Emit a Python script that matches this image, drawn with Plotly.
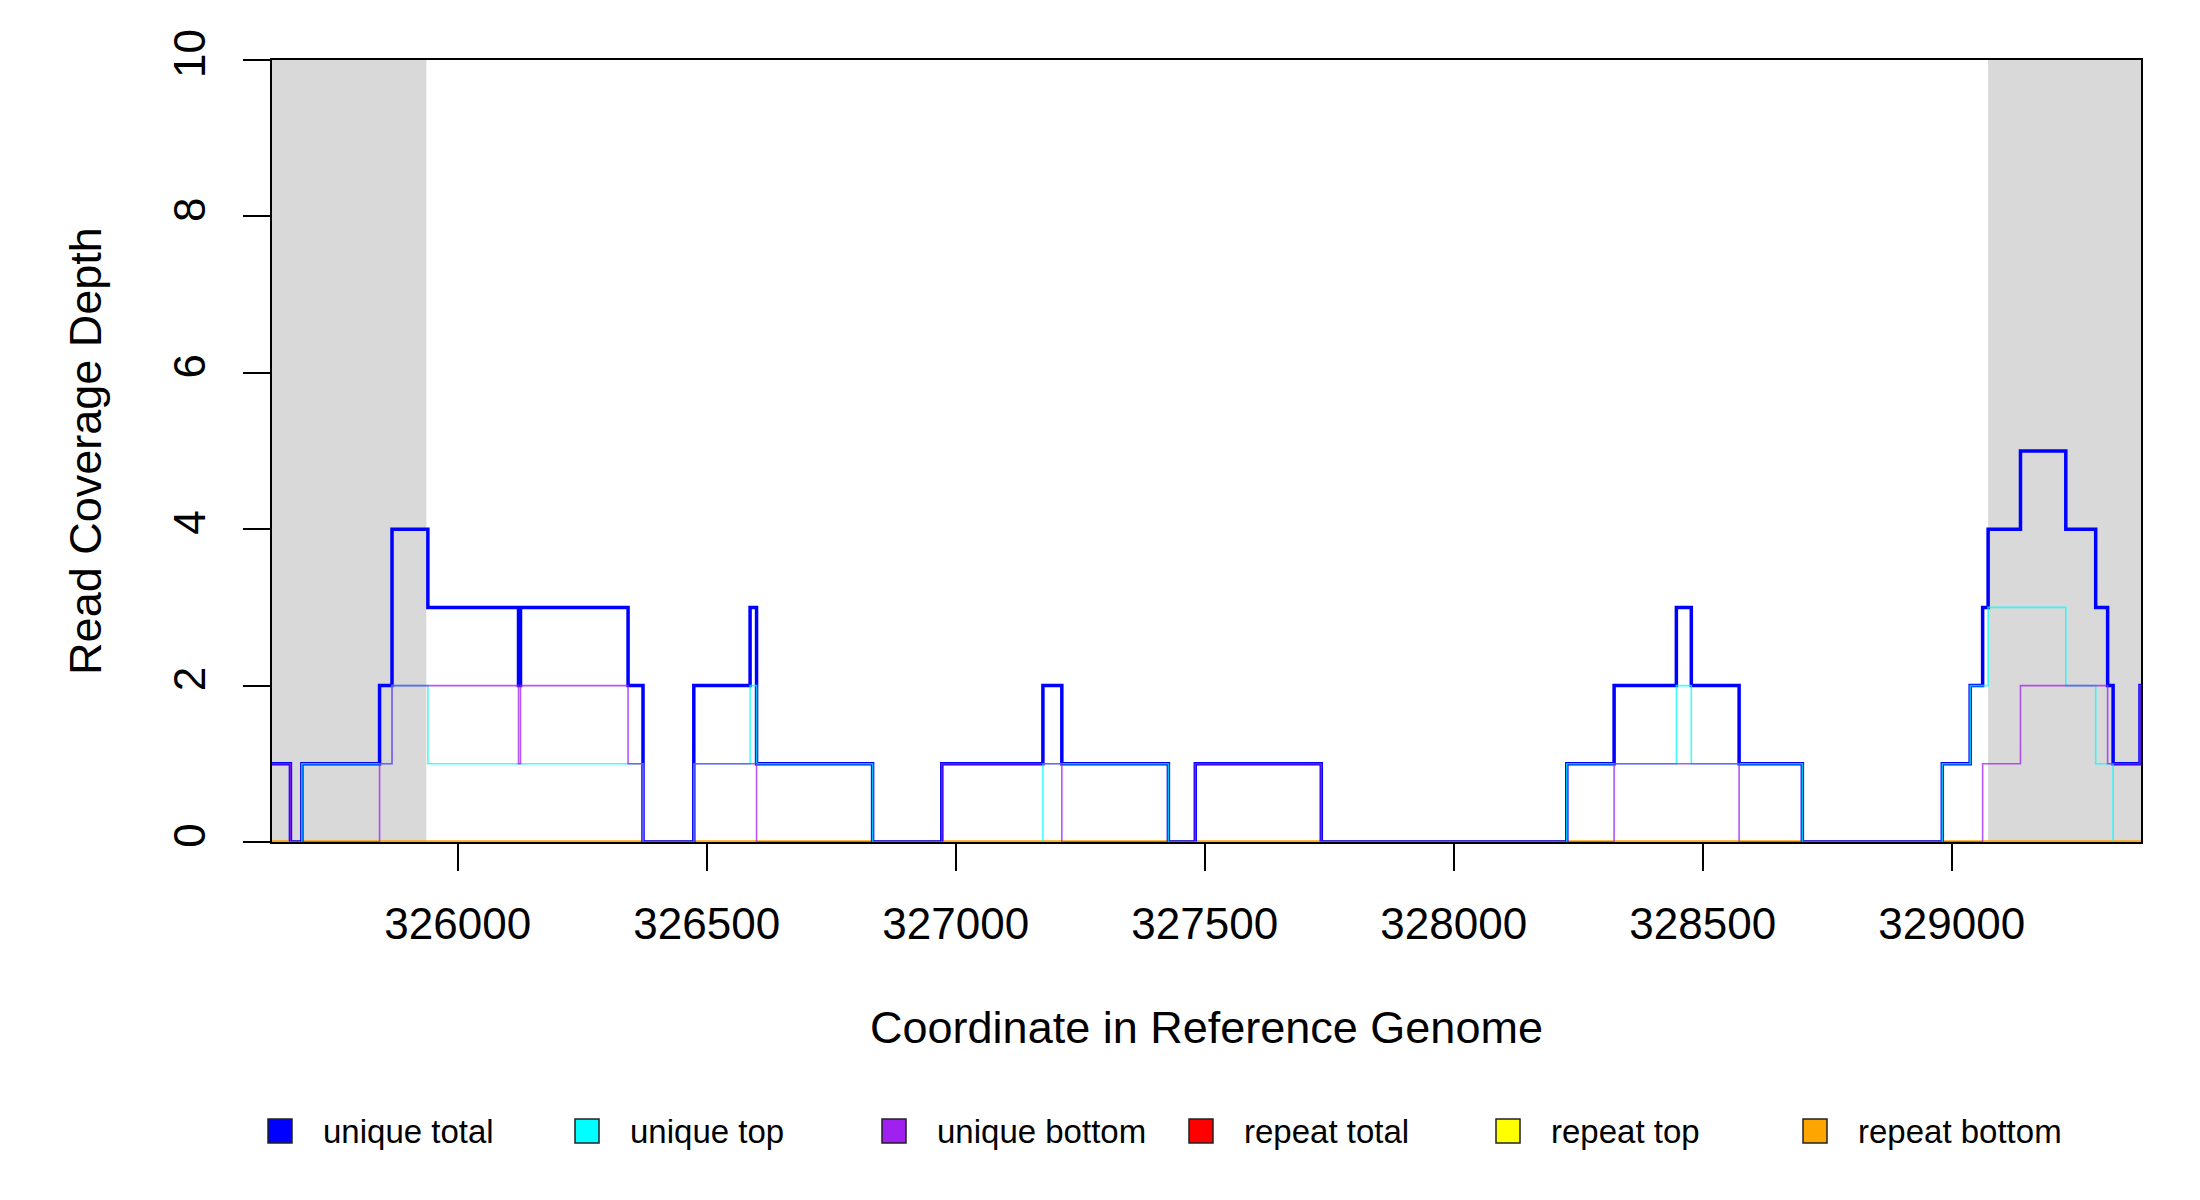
#!/usr/bin/env python3
# -*- coding:utf-8 -*-

'''
read coverage depth graph
'''

import plotly;
import plotly.graph_objs;

# shown region and the grey flanks at both ends
region_start = 325627;
region_end = 329380;
flank_left_end = 325937;
flank_right_start = 329073;

x_ticks = [326000, 326500, 327000, 327500, 328000, 328500, 329000];
y_ticks = [0, 2, 4, 6, 8, 10];

# step starts and depth from there on (last step runs to region_end)
unique_total_x = [325627, 325664, 325687, 325843, 325868, 325940, 326122, 326126, 326342, 326372,
                  326474, 326587, 326600, 326833, 326972, 327175, 327213, 327427, 327481, 327734,
                  328227, 328322, 328447, 328477, 328573, 328700, 328981, 329037, 329062, 329073,
                  329138, 329229, 329289, 329313, 329324, 329378];
unique_total_y = [1, 0, 1, 2, 4, 3, 2, 3, 2, 0,
                  2, 3, 1, 0, 1, 2, 1, 0, 1, 0,
                  1, 2, 3, 2, 1, 0, 1, 2, 3, 4,
                  5, 4, 3, 2, 1, 2];

unique_top_x = [325627, 325687, 325868, 325940, 326372, 326474, 326587, 326600, 326833, 327175,
                327427, 328227, 328447, 328477, 328700, 328981, 329037, 329073, 329229, 329289,
                329324];
unique_top_y = [0, 1, 2, 1, 0, 1, 2, 1, 0, 1,
                0, 1, 2, 1, 0, 1, 2, 3, 2, 1,
                0];

unique_bottom_x = [325627, 325664, 325843, 325868, 326122, 326126, 326342, 326372, 326474, 326600,
                   326972, 327213, 327481, 327734, 328322, 328573, 329062, 329138, 329313, 329378];
unique_bottom_y = [1, 0, 1, 2, 1, 2, 1, 0, 1, 0,
                   1, 0, 1, 0, 1, 0, 1, 2, 1, 2];

repeat_total_x = [325627];
repeat_total_y = [0];
repeat_top_x = [325627];
repeat_top_y = [0];
repeat_bottom_x = [325627];
repeat_bottom_y = [0];

names = ["unique total", "unique top", "unique bottom", "repeat total", "repeat top", "repeat bottom"];
colors = ["#0000FF", "#00FFFF", "#A020F0", "#FF0000", "#FFFF00", "#FFA500"];

FONT = "Liberation Sans, Arial, sans-serif";

# page margins in px
M_LEFT = 264;
M_RIGHT = 67;
M_TOP = 52;
M_BOTTOM = 366;


def step_trace(xs, ys, color, width, opacity):
    # R type="s": hold each value until the next start
    return plotly.graph_objs.Scatter(
        x=xs + [region_end],
        y=ys + [ys[-1]],
        mode="lines",
        line=dict(color=color, width=width, shape="hv"),
        opacity=opacity,
        showlegend=False,
        hoverinfo="skip",
    );


def draw_coverage_graph():
    series = [
        (repeat_total_x, repeat_total_y, colors[3], 3, 0.7),
        (repeat_top_x, repeat_top_y, colors[4], 3, 0.7),
        (repeat_bottom_x, repeat_bottom_y, colors[5], 3, 0.7),
        (unique_total_x, unique_total_y, colors[0], 3.5, 1.0),
        (unique_top_x, unique_top_y, colors[1], 1.6, 0.75),
        (unique_bottom_x, unique_bottom_y, colors[2], 1.6, 0.75),
    ];
    data = [step_trace(*s) for s in series];

    plot_w = 2200 - M_LEFT - M_RIGHT;
    plot_h = 1200 - M_TOP - M_BOTTOM;

    shapes = [
        dict(type="rect", xref="x", yref="paper", x0=region_start, x1=flank_left_end, y0=0, y1=1,
             fillcolor="#D9D9D9", line=dict(width=0), layer="below"),
        dict(type="rect", xref="x", yref="paper", x0=flank_right_start, x1=region_end, y0=0, y1=1,
             fillcolor="#D9D9D9", line=dict(width=0), layer="below"),
    ];
    annotations = [];

    # legend along the bottom, squares with a dark border
    legend_y = -289 / plot_h;
    box = 12;
    for i in range(len(names)):
        cx = 8 + i * 307;
        shapes.append(dict(
            type="rect", xref="paper", yref="paper",
            x0=(cx - box) / plot_w, x1=(cx + box) / plot_w,
            y0=legend_y - box / plot_h, y1=legend_y + box / plot_h,
            fillcolor=colors[i], line=dict(color="#222222", width=1.5),
        ));
        annotations.append(dict(
            xref="paper", yref="paper", x=(cx + 41) / plot_w, y=legend_y,
            xanchor="left", yanchor="middle", showarrow=False,
            text=names[i], font=dict(family=FONT, size=33, color="black"),
        ));

    layout = plotly.graph_objs.Layout(
        width=2200,
        height=1200,
        margin=dict(l=M_LEFT, r=M_RIGHT, t=M_TOP, b=M_BOTTOM, pad=0),
        paper_bgcolor="white",
        plot_bgcolor="white",
        font=dict(family=FONT, size=44, color="black"),
        showlegend=False,
        xaxis=dict(
            range=[region_start, region_end],
            tickvals=x_ticks,
            ticktext=[str(v) for v in x_ticks],
            ticks="outside", ticklen=27, tickwidth=1.5, tickcolor="black",
            showline=True, linecolor="black", linewidth=1.5, mirror=True,
            showgrid=False, zeroline=False,
            tickfont=dict(size=44),
            ticklabelstandoff=15,
            title=dict(text="Coordinate in Reference Genome", font=dict(size=45), standoff=65),
        ),
        yaxis=dict(
            range=[0, 10],
            tickvals=y_ticks,
            ticks="outside", ticklen=27, tickwidth=1.5, tickcolor="black",
            tickangle=-90,
            showline=True, linecolor="black", linewidth=1.5, mirror=True,
            showgrid=False, zeroline=False,
            tickfont=dict(size=44),
            ticklabelstandoff=21,
            title=dict(text="Read Coverage Depth", font=dict(size=45), standoff=49),
        ),
        shapes=shapes,
        annotations=annotations,
    );
    figure = plotly.graph_objs.Figure(data=data, layout=layout);
    figure.write_html("out.html");


if __name__ == '__main__':
    draw_coverage_graph();
